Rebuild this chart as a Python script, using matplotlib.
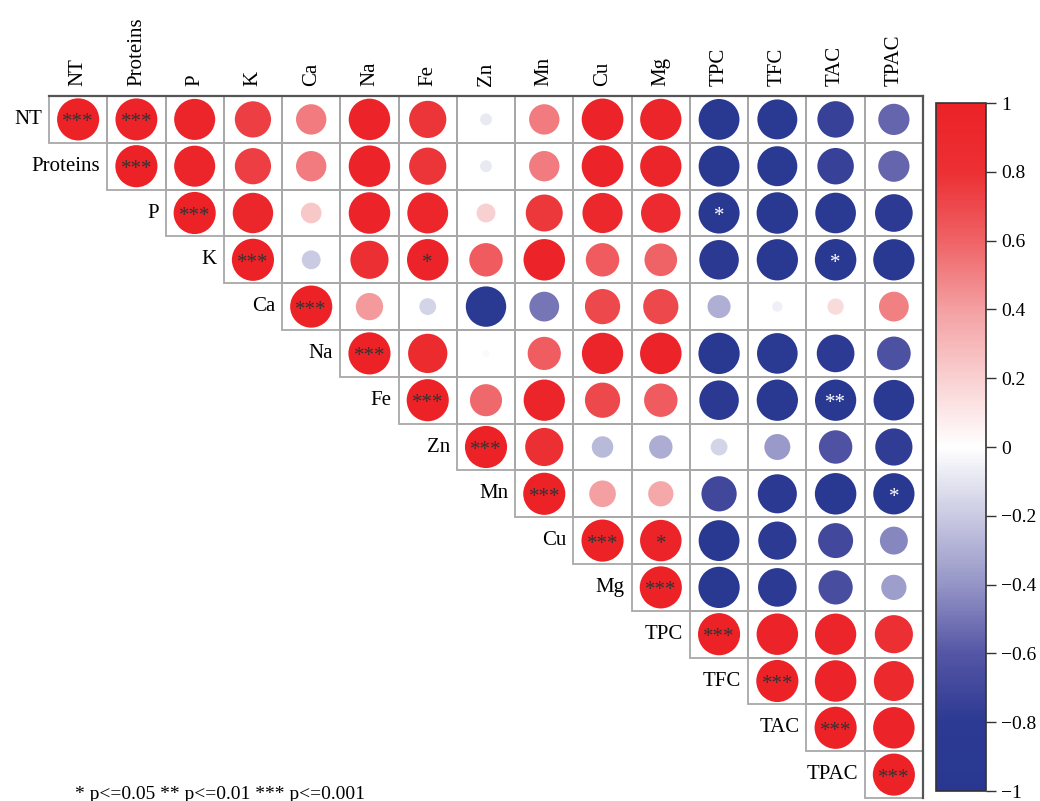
import numpy as np
import matplotlib
matplotlib.use("Agg")
import matplotlib.pyplot as plt
from matplotlib.colors import LinearSegmentedColormap
from matplotlib.patches import Rectangle

variables = ["NT", "Proteins", "P", "K", "Ca", "Na", "Fe", "Zn", "Mn",
             "Cu", "Mg", "TPC", "TFC", "TAC", "TPAC"]

# upper triangle of the correlation matrix, each row starts at the diagonal
upper_rows = [
    [1, 0.99, 0.95, 0.74, 0.52, 0.97, 0.78, -0.08, 0.52, 0.98, 0.96, -0.94, -0.90, -0.75, -0.55],
    [1, 0.95, 0.74, 0.52, 0.97, 0.78, -0.08, 0.52, 0.98, 0.96, -0.94, -0.90, -0.75, -0.55],
    [1, 0.92, 0.24, 0.97, 0.94, 0.20, 0.77, 0.91, 0.88, -0.95, -0.97, -0.93, -0.80],
    [1, -0.20, 0.82, 0.97, 0.63, 0.97, 0.63, 0.60, -0.88, -0.96, -0.97, -0.96],
    [1, 0.42, -0.16, -0.92, -0.50, 0.70, 0.70, -0.30, -0.06, 0.15, 0.50],
    [1, 0.87, 0.03, 0.62, 0.96, 0.97, -0.96, -0.93, -0.80, -0.64],
    [1, 0.58, 0.96, 0.70, 0.63, -0.88, -0.96, -0.96, -0.93],
    [1, 0.82, -0.26, -0.31, -0.16, -0.38, -0.63, -0.78],
    [1, 0.40, 0.36, -0.70, -0.86, -0.97, -0.96],
    [1, 0.97, -0.94, -0.82, -0.69, -0.44],
    [1, -0.96, -0.84, -0.66, -0.36],
    [1, 0.97, 0.96, 0.82],
    [1, 0.97, 0.90],
    [1, 0.97],
    [1],
]

# significance marks off the diagonal (row, column)
sig_pairs = [("NT", "Proteins", "***"), ("K", "Fe", "*"), ("P", "TPC", "*"),
             ("K", "TAC", "*"), ("Fe", "TAC", "**"), ("Mn", "TPAC", "*"),
             ("Cu", "Mg", "*")]

plt.rcParams["font.family"] = ["Liberation Serif", "DejaVu Serif"]

n = len(variables)
corr = np.zeros((n, n))
for i, row in enumerate(upper_rows):
    corr[i, i:] = row

stars = {(i, i): "***" for i in range(n)}
for a, b, s in sig_pairs:
    stars[(variables.index(a), variables.index(b))] = s

cmap = LinearSegmentedColormap.from_list("bwr_corr", [
    (0.0, "#283891"), (0.1, "#2D3A93"), (0.2, "#5556A5"), (0.3, "#9595C7"),
    (0.4, "#CACAE3"), (0.5, "#FFFFFF"), (0.6, "#F9D0D1"), (0.7, "#F4A0A2"),
    (0.8, "#EF6366"), (0.9, "#EC3034"), (1.0, "#EC2227")])

W, H, DPI = 1040, 801, 100
fig = plt.figure(figsize=(W / DPI, H / DPI), dpi=DPI)

gx0, gx1, gy0, gy1 = 49, 923, 96, 798
ax = fig.add_axes([gx0 / W, 1 - gy1 / H, (gx1 - gx0) / W, (gy1 - gy0) / H])
ax.set_xlim(0, n)
ax.set_ylim(n, 0)
ax.axis("off")

# cell borders
for i in range(n):
    for j in range(i, n):
        ax.add_patch(Rectangle((j, i), 1, 1, fill=False, edgecolor="#A8A8A8",
                               lw=1.3, clip_on=False, zorder=1))
ax.plot([0, n], [0, 0], color="#555555", lw=1.6, clip_on=False, zorder=2)
ax.plot([n, n], [0, n], color="#555555", lw=1.6, clip_on=False, zorder=2)

# circles, area proportional to |r|
cell_h_pt = (gy1 - gy0) / n * 72 / DPI
full_size = (0.9 * cell_h_pt) ** 2
ii, jj = np.triu_indices(n)
vals = corr[ii, jj]
ax.scatter(jj + 0.5, ii + 0.5, s=full_size * np.abs(vals), c=vals, cmap=cmap,
           vmin=-1, vmax=1, edgecolors="none", zorder=3, clip_on=False)

for (i, j), s in stars.items():
    color = "white" if corr[i, j] < 0 else "#333333"
    ax.text(j + 0.5, i + 0.575, s, ha="center", va="center", fontsize=15,
            color=color, zorder=4)

for i, name in enumerate(variables):
    ax.text(i - 0.12, i + 0.5, name, ha="right", va="center", fontsize=15)
    ax.text(i + 0.5, -0.22, name, ha="center", va="bottom", fontsize=15,
            rotation=90)

# colour bar
cax = fig.add_axes([936 / W, 1 - 791 / H, 50 / W, (791 - 103) / H])
sm = plt.cm.ScalarMappable(cmap=cmap, norm=plt.Normalize(-1, 1))
cb = fig.colorbar(sm, cax=cax, ticks=np.linspace(-1, 1, 11))
cb.outline.set_edgecolor("#333333")
cb.outline.set_linewidth(1.2)
cb.set_ticklabels(["\u22121", "\u22120.8", "\u22120.6", "\u22120.4", "\u22120.2",
                   "0", "0.2", "0.4", "0.6", "0.8", "1"])
cax.tick_params(length=7, width=1, labelsize=14, pad=4, color="#333333")

fig.text(75 / W, 1 - 786 / H, "* p<=0.05 ** p<=0.01 *** p<=0.001",
         ha="left", va="top", fontsize=14)

fig.savefig("out.png", dpi=DPI)
